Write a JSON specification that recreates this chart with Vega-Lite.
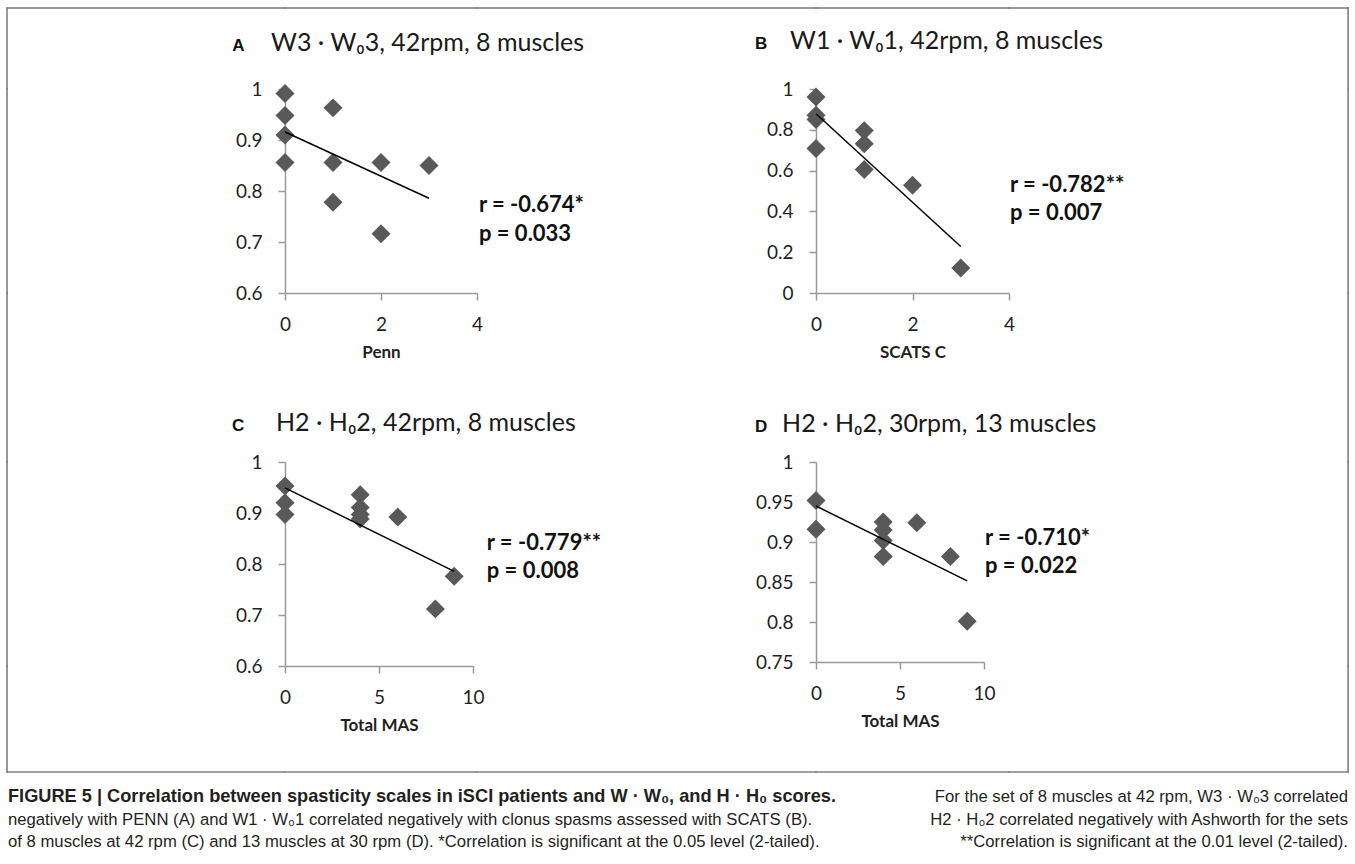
{
  "$schema": "https://vega.github.io/schema/vega-lite/v6.json",
  "padding": {"left": 6, "top": 7, "right": 6, "bottom": 5},
  "background": "white",
  "config": {
    "view": {"stroke": null},
    "axis": {
      "grid": false,
      "domainColor": "#9a9a9a",
      "domainWidth": 1.5,
      "tickColor": "#9a9a9a",
      "tickWidth": 1.5,
      "tickSize": 7,
      "labelFont": "Lato",
      "labelFontSize": 19,
      "labelColor": "#1f1f1f",
      "labelPadding": 15,
      "labelFlush": false,
      "labelOverlap": false,
      "labelBound": false,
      "titleFont": "Lato",
      "titleFontSize": 17,
      "titleFontWeight": "bold",
      "titleColor": "#1f1f1f",
      "titlePadding": 10
    },
    "axisY": {"labelPadding": 16}
  },
  "datasets": {
    "penn": [
      {"score": 0, "value": 0.991},
      {"score": 0, "value": 0.948},
      {"score": 0, "value": 0.910},
      {"score": 0, "value": 0.856},
      {"score": 1, "value": 0.963},
      {"score": 1, "value": 0.856},
      {"score": 1, "value": 0.778},
      {"score": 2, "value": 0.856},
      {"score": 2, "value": 0.716},
      {"score": 3, "value": 0.850}
    ],
    "scats": [
      {"score": 0, "value": 0.961},
      {"score": 0, "value": 0.871},
      {"score": 0, "value": 0.850},
      {"score": 0, "value": 0.708},
      {"score": 1, "value": 0.796},
      {"score": 1, "value": 0.732},
      {"score": 1, "value": 0.605},
      {"score": 2, "value": 0.528},
      {"score": 3, "value": 0.123}
    ],
    "mas8": [
      {"score": 0, "value": 0.953},
      {"score": 0, "value": 0.920},
      {"score": 0, "value": 0.897},
      {"score": 4, "value": 0.936},
      {"score": 4, "value": 0.911},
      {"score": 4, "value": 0.897},
      {"score": 4, "value": 0.888},
      {"score": 6, "value": 0.892},
      {"score": 8, "value": 0.712},
      {"score": 9, "value": 0.776}
    ],
    "mas13": [
      {"score": 0, "value": 0.952},
      {"score": 0, "value": 0.916},
      {"score": 4, "value": 0.925},
      {"score": 4, "value": 0.915},
      {"score": 4, "value": 0.902},
      {"score": 4, "value": 0.882},
      {"score": 6, "value": 0.924},
      {"score": 8, "value": 0.882},
      {"score": 9, "value": 0.801}
    ],
    "panels": [
      {"panel": "A", "letter": "A", "title": "W3 · W₀3, 42rpm, 8 muscles", "r": "r = -0.674*", "p": "p = 0.033"},
      {"panel": "B", "letter": "B", "title": "W1 · W₀1, 42rpm, 8 muscles", "r": "r = -0.782**", "p": "p = 0.007"},
      {"panel": "C", "letter": "C", "title": "H2 · H₀2, 42rpm, 8 muscles", "r": "r = -0.779**", "p": "p = 0.008"},
      {"panel": "D", "letter": "D", "title": "H2 · H₀2, 30rpm, 13 muscles", "r": "r = -0.710*", "p": "p = 0.022"}
    ],
    "captionHead": [
      {"line": 1, "text": "FIGURE 5 | Correlation between spasticity scales in iSCI patients and W · W₀, and H · H₀ scores."}
    ],
    "captionLeft": [
      {"line": 2, "text": "negatively with PENN (A) and W1 · W₀1 correlated negatively with clonus spasms assessed with SCATS (B)."},
      {"line": 3, "text": "of 8 muscles at 42 rpm (C) and 13 muscles at 30 rpm (D). *Correlation is significant at the 0.05 level (2-tailed)."}
    ],
    "captionRight": [
      {"line": 1, "text": "For the set of 8 muscles at 42 rpm, W3 · W₀3 correlated"},
      {"line": 2, "text": "H2 · H₀2 correlated negatively with Ashworth for the sets"},
      {"line": 3, "text": "**Correlation is significant at the 0.01 level (2-tailed)."}
    ]
  },
  "bounds": "flush",
  "spacing": 0,
  "align": {"row": "each", "column": "each"},
  "columns": 7,
  "concat": [
    {"width": 0.1, "height": 0.1, "data": {"values": []}, "mark": {"type": "point", "opacity": 0}, "encoding": {}, "view": {"stroke": "#777777", "strokeWidth": 1.5}},
    {"width": 277, "height": 0.1, "data": {"values": []}, "mark": {"type": "point", "opacity": 0}, "encoding": {}, "view": {"stroke": "#777777", "strokeWidth": 1.5}},
    {"width": 192, "height": 0.1, "data": {"values": []}, "mark": {"type": "point", "opacity": 0}, "encoding": {}, "view": {"stroke": "#777777", "strokeWidth": 1.5}},
    {"width": 339, "height": 0.1, "data": {"values": []}, "mark": {"type": "point", "opacity": 0}, "encoding": {}, "view": {"stroke": "#777777", "strokeWidth": 1.5}},
    {"width": 193, "height": 0.1, "data": {"values": []}, "mark": {"type": "point", "opacity": 0}, "encoding": {}, "view": {"stroke": "#777777", "strokeWidth": 1.5}},
    {"width": 339, "height": 0.1, "data": {"values": []}, "mark": {"type": "point", "opacity": 0}, "encoding": {}, "view": {"stroke": "#777777", "strokeWidth": 1.5}},
    {"width": 0.1, "height": 0.1, "data": {"values": []}, "mark": {"type": "point", "opacity": 0}, "encoding": {}, "view": {"stroke": "#777777", "strokeWidth": 1.5}},

    {"width": 0.1, "height": 80, "data": {"values": []}, "mark": {"type": "point", "opacity": 0}, "encoding": {}, "view": {"stroke": "#808080", "strokeWidth": 1.5}},
    {"width": 0.1, "height": 0.1, "data": {"values": []}, "mark": {"type": "point", "opacity": 0}, "encoding": {}},
    {"width": 0.1, "height": 0.1, "data": {"values": []}, "mark": {"type": "point", "opacity": 0}, "encoding": {}},
    {"width": 0.1, "height": 0.1, "data": {"values": []}, "mark": {"type": "point", "opacity": 0}, "encoding": {}},
    {"width": 0.1, "height": 0.1, "data": {"values": []}, "mark": {"type": "point", "opacity": 0}, "encoding": {}},
    {"width": 0.1, "height": 0.1, "data": {"values": []}, "mark": {"type": "point", "opacity": 0}, "encoding": {}},
    {"width": 0.1, "height": 80, "data": {"values": []}, "mark": {"type": "point", "opacity": 0}, "encoding": {}, "view": {"stroke": "#808080", "strokeWidth": 1.5}},

    {"width": 0.1, "height": 204, "data": {"values": []}, "mark": {"type": "point", "opacity": 0}, "encoding": {}, "view": {"stroke": "#808080", "strokeWidth": 1.5}},
    {"width": 0.1, "height": 0.1, "data": {"values": []}, "mark": {"type": "point", "opacity": 0}, "encoding": {}},
    {
      "width": 192, "height": 204,
      "layer": [
        {"data": {"name": "penn"}, "mark": {"type": "point", "shape": "diamond", "filled": true, "size": 360, "color": "#595959", "opacity": 1},
         "encoding": {
           "x": {"field": "score", "type": "quantitative", "title": "Penn", "scale": {"domain": [0, 4], "nice": false, "zero": false}, "axis": {"values": [0, 2, 4], "labelOverlap": false}},
           "y": {"field": "value", "type": "quantitative", "title": null, "scale": {"domain": [0.6, 1], "nice": false, "zero": false}, "axis": {"values": [0.6, 0.7, 0.8, 0.9, 1], "format": "~g", "labelOverlap": false}}}},
        {"data": {"name": "penn"}, "transform": [{"regression": "value", "on": "score"}], "mark": {"type": "line", "color": "#000000", "strokeWidth": 1.5},
         "encoding": {"x": {"field": "score", "type": "quantitative"}, "y": {"field": "value", "type": "quantitative"}}},
        {"data": {"name": "panels"}, "transform": [{"filter": "datum.panel == 'A'"}], "mark": {"type": "text", "align": "left", "baseline": "alphabetic", "font": "Liberation Sans", "fontSize": 17, "fontWeight": "bold", "color": "#111111"},
         "encoding": {"x": {"datum": -1.1}, "y": {"datum": 1.0745}, "text": {"field": "letter"}}},
        {"data": {"name": "panels"}, "transform": [{"filter": "datum.panel == 'A'"}], "mark": {"type": "text", "align": "left", "baseline": "alphabetic", "font": "Lato", "fontSize": 25, "color": "#1a1a1a"},
         "encoding": {"x": {"datum": -0.29}, "y": {"datum": 1.0745}, "text": {"field": "title"}}},
        {"data": {"name": "panels"}, "transform": [{"filter": "datum.panel == 'A'"}], "mark": {"type": "text", "align": "left", "baseline": "alphabetic", "font": "Lato", "fontSize": 22, "fontWeight": "bold", "color": "#111111"},
         "encoding": {"x": {"datum": 4.04}, "y": {"datum": 0.759}, "text": {"field": "r"}}},
        {"data": {"name": "panels"}, "transform": [{"filter": "datum.panel == 'A'"}], "mark": {"type": "text", "align": "left", "baseline": "alphabetic", "font": "Lato", "fontSize": 22, "fontWeight": "bold", "color": "#111111"},
         "encoding": {"x": {"datum": 4.04}, "y": {"datum": 0.702}, "text": {"field": "p"}}}
      ]
    },
    {"width": 0.1, "height": 0.1, "data": {"values": []}, "mark": {"type": "point", "opacity": 0}, "encoding": {}},
    {
      "width": 193, "height": 204,
      "layer": [
        {"data": {"name": "scats"}, "mark": {"type": "point", "shape": "diamond", "filled": true, "size": 360, "color": "#595959", "opacity": 1},
         "encoding": {
           "x": {"field": "score", "type": "quantitative", "title": "SCATS C", "scale": {"domain": [0, 4], "nice": false, "zero": false}, "axis": {"values": [0, 2, 4], "labelOverlap": false}},
           "y": {"field": "value", "type": "quantitative", "title": null, "scale": {"domain": [0, 1], "nice": false, "zero": false}, "axis": {"values": [0, 0.2, 0.4, 0.6, 0.8, 1], "format": "~g", "labelOverlap": false}}}},
        {"data": {"name": "scats"}, "transform": [{"regression": "value", "on": "score"}], "mark": {"type": "line", "color": "#000000", "strokeWidth": 1.5},
         "encoding": {"x": {"field": "score", "type": "quantitative"}, "y": {"field": "value", "type": "quantitative"}}},
        {"data": {"name": "panels"}, "transform": [{"filter": "datum.panel == 'B'"}], "mark": {"type": "text", "align": "left", "baseline": "alphabetic", "font": "Liberation Sans", "fontSize": 17, "fontWeight": "bold", "color": "#111111"},
         "encoding": {"x": {"datum": -1.264}, "y": {"datum": 1.194}, "text": {"field": "letter"}}},
        {"data": {"name": "panels"}, "transform": [{"filter": "datum.panel == 'B'"}], "mark": {"type": "text", "align": "left", "baseline": "alphabetic", "font": "Lato", "fontSize": 25, "color": "#1a1a1a"},
         "encoding": {"x": {"datum": -0.539}, "y": {"datum": 1.194}, "text": {"field": "title"}}},
        {"data": {"name": "panels"}, "transform": [{"filter": "datum.panel == 'B'"}], "mark": {"type": "text", "align": "left", "baseline": "alphabetic", "font": "Lato", "fontSize": 22, "fontWeight": "bold", "color": "#111111"},
         "encoding": {"x": {"datum": 4.02}, "y": {"datum": 0.497}, "text": {"field": "r"}}},
        {"data": {"name": "panels"}, "transform": [{"filter": "datum.panel == 'B'"}], "mark": {"type": "text", "align": "left", "baseline": "alphabetic", "font": "Lato", "fontSize": 22, "fontWeight": "bold", "color": "#111111"},
         "encoding": {"x": {"datum": 4.02}, "y": {"datum": 0.358}, "text": {"field": "p"}}}
      ]
    },
    {"width": 0.1, "height": 0.1, "data": {"values": []}, "mark": {"type": "point", "opacity": 0}, "encoding": {}},
    {"width": 0.1, "height": 204, "data": {"values": []}, "mark": {"type": "point", "opacity": 0}, "encoding": {}, "view": {"stroke": "#808080", "strokeWidth": 1.5}},

    {"width": 0.1, "height": 169, "data": {"values": []}, "mark": {"type": "point", "opacity": 0}, "encoding": {}, "view": {"stroke": "#808080", "strokeWidth": 1.5}},
    {"width": 0.1, "height": 0.1, "data": {"values": []}, "mark": {"type": "point", "opacity": 0}, "encoding": {}},
    {"width": 0.1, "height": 0.1, "data": {"values": []}, "mark": {"type": "point", "opacity": 0}, "encoding": {}},
    {"width": 0.1, "height": 0.1, "data": {"values": []}, "mark": {"type": "point", "opacity": 0}, "encoding": {}},
    {"width": 0.1, "height": 0.1, "data": {"values": []}, "mark": {"type": "point", "opacity": 0}, "encoding": {}},
    {"width": 0.1, "height": 0.1, "data": {"values": []}, "mark": {"type": "point", "opacity": 0}, "encoding": {}},
    {"width": 0.1, "height": 169, "data": {"values": []}, "mark": {"type": "point", "opacity": 0}, "encoding": {}, "view": {"stroke": "#808080", "strokeWidth": 1.5}},

    {"width": 0.1, "height": 204, "data": {"values": []}, "mark": {"type": "point", "opacity": 0}, "encoding": {}, "view": {"stroke": "#808080", "strokeWidth": 1.5}},
    {"width": 0.1, "height": 0.1, "data": {"values": []}, "mark": {"type": "point", "opacity": 0}, "encoding": {}},
    {
      "width": 188, "height": 204,
      "layer": [
        {"data": {"name": "mas8"}, "mark": {"type": "point", "shape": "diamond", "filled": true, "size": 360, "color": "#595959", "opacity": 1},
         "encoding": {
           "x": {"field": "score", "type": "quantitative", "title": "Total MAS", "scale": {"domain": [0, 10], "nice": false, "zero": false}, "axis": {"values": [0, 5, 10], "labelOverlap": false}},
           "y": {"field": "value", "type": "quantitative", "title": null, "scale": {"domain": [0.6, 1], "nice": false, "zero": false}, "axis": {"values": [0.6, 0.7, 0.8, 0.9, 1], "format": "~g", "labelOverlap": false}}}},
        {"data": {"name": "mas8"}, "transform": [{"regression": "value", "on": "score"}], "mark": {"type": "line", "color": "#000000", "strokeWidth": 1.5},
         "encoding": {"x": {"field": "score", "type": "quantitative"}, "y": {"field": "value", "type": "quantitative"}}},
        {"data": {"name": "panels"}, "transform": [{"filter": "datum.panel == 'C'"}], "mark": {"type": "text", "align": "left", "baseline": "alphabetic", "font": "Liberation Sans", "fontSize": 17, "fontWeight": "bold", "color": "#111111"},
         "encoding": {"x": {"datum": -2.82}, "y": {"datum": 1.061}, "text": {"field": "letter"}}},
        {"data": {"name": "panels"}, "transform": [{"filter": "datum.panel == 'C'"}], "mark": {"type": "text", "align": "left", "baseline": "alphabetic", "font": "Lato", "fontSize": 25, "color": "#1a1a1a"},
         "encoding": {"x": {"datum": -0.48}, "y": {"datum": 1.061}, "text": {"field": "title"}}},
        {"data": {"name": "panels"}, "transform": [{"filter": "datum.panel == 'C'"}], "mark": {"type": "text", "align": "left", "baseline": "alphabetic", "font": "Lato", "fontSize": 22, "fontWeight": "bold", "color": "#111111"},
         "encoding": {"x": {"datum": 10.73}, "y": {"datum": 0.8275}, "text": {"field": "r"}}},
        {"data": {"name": "panels"}, "transform": [{"filter": "datum.panel == 'C'"}], "mark": {"type": "text", "align": "left", "baseline": "alphabetic", "font": "Lato", "fontSize": 22, "fontWeight": "bold", "color": "#111111"},
         "encoding": {"x": {"datum": 10.73}, "y": {"datum": 0.7725}, "text": {"field": "p"}}}
      ]
    },
    {"width": 0.1, "height": 0.1, "data": {"values": []}, "mark": {"type": "point", "opacity": 0}, "encoding": {}},
    {
      "width": 168, "height": 200,
      "layer": [
        {"data": {"name": "mas13"}, "mark": {"type": "point", "shape": "diamond", "filled": true, "size": 360, "color": "#595959", "opacity": 1},
         "encoding": {
           "x": {"field": "score", "type": "quantitative", "title": "Total MAS", "scale": {"domain": [0, 10], "nice": false, "zero": false}, "axis": {"tickCount": 2, "labelOverlap": false}},
           "y": {"field": "value", "type": "quantitative", "title": null, "scale": {"domain": [0.75, 1], "nice": false, "zero": false}, "axis": {"tickCount": 5, "format": "~g", "labelOverlap": false}}}},
        {"data": {"name": "mas13"}, "transform": [{"regression": "value", "on": "score"}], "mark": {"type": "line", "color": "#000000", "strokeWidth": 1.5},
         "encoding": {"x": {"field": "score", "type": "quantitative"}, "y": {"field": "value", "type": "quantitative"}}},
        {"data": {"name": "panels"}, "transform": [{"filter": "datum.panel == 'D'"}], "mark": {"type": "text", "align": "left", "baseline": "alphabetic", "font": "Liberation Sans", "fontSize": 17, "fontWeight": "bold", "color": "#111111"},
         "encoding": {"x": {"datum": -3.63}, "y": {"datum": 1.0375}, "text": {"field": "letter"}}},
        {"data": {"name": "panels"}, "transform": [{"filter": "datum.panel == 'D'"}], "mark": {"type": "text", "align": "left", "baseline": "alphabetic", "font": "Lato", "fontSize": 25, "color": "#1a1a1a"},
         "encoding": {"x": {"datum": -2.02}, "y": {"datum": 1.0375}, "text": {"field": "title"}}},
        {"data": {"name": "panels"}, "transform": [{"filter": "datum.panel == 'D'"}], "mark": {"type": "text", "align": "left", "baseline": "alphabetic", "font": "Lato", "fontSize": 22, "fontWeight": "bold", "color": "#111111"},
         "encoding": {"x": {"datum": 10.06}, "y": {"datum": 0.896}, "text": {"field": "r"}}},
        {"data": {"name": "panels"}, "transform": [{"filter": "datum.panel == 'D'"}], "mark": {"type": "text", "align": "left", "baseline": "alphabetic", "font": "Lato", "fontSize": 22, "fontWeight": "bold", "color": "#111111"},
         "encoding": {"x": {"datum": 10.06}, "y": {"datum": 0.861}, "text": {"field": "p"}}}
      ]
    },
    {"width": 0.1, "height": 0.1, "data": {"values": []}, "mark": {"type": "point", "opacity": 0}, "encoding": {}},
    {"width": 0.1, "height": 204, "data": {"values": []}, "mark": {"type": "point", "opacity": 0}, "encoding": {}, "view": {"stroke": "#808080", "strokeWidth": 1.5}},

    {"width": 0.1, "height": 106, "data": {"values": []}, "mark": {"type": "point", "opacity": 0}, "encoding": {}, "view": {"stroke": "#808080", "strokeWidth": 1.5}},
    {"width": 0.1, "height": 0.1, "data": {"values": []}, "mark": {"type": "point", "opacity": 0}, "encoding": {}},
    {"width": 0.1, "height": 0.1, "data": {"values": []}, "mark": {"type": "point", "opacity": 0}, "encoding": {}},
    {"width": 0.1, "height": 0.1, "data": {"values": []}, "mark": {"type": "point", "opacity": 0}, "encoding": {}},
    {"width": 0.1, "height": 0.1, "data": {"values": []}, "mark": {"type": "point", "opacity": 0}, "encoding": {}},
    {"width": 0.1, "height": 0.1, "data": {"values": []}, "mark": {"type": "point", "opacity": 0}, "encoding": {}},
    {"width": 0.1, "height": 106, "data": {"values": []}, "mark": {"type": "point", "opacity": 0}, "encoding": {}, "view": {"stroke": "#808080", "strokeWidth": 1.5}},

    {"width": 0.1, "height": 0.1, "data": {"values": []}, "mark": {"type": "point", "opacity": 0}, "encoding": {}, "view": {"stroke": "#808080", "strokeWidth": 1.5}},
    {"width": 277, "height": 0.1, "data": {"values": []}, "mark": {"type": "point", "opacity": 0}, "encoding": {}, "view": {"stroke": "#808080", "strokeWidth": 1.5}},
    {"width": 192, "height": 0.1, "data": {"values": []}, "mark": {"type": "point", "opacity": 0}, "encoding": {}, "view": {"stroke": "#808080", "strokeWidth": 1.5}},
    {"width": 339, "height": 0.1, "data": {"values": []}, "mark": {"type": "point", "opacity": 0}, "encoding": {}, "view": {"stroke": "#808080", "strokeWidth": 1.5}},
    {"width": 193, "height": 0.1, "data": {"values": []}, "mark": {"type": "point", "opacity": 0}, "encoding": {}, "view": {"stroke": "#808080", "strokeWidth": 1.5}},
    {"width": 339, "height": 0.1, "data": {"values": []}, "mark": {"type": "point", "opacity": 0}, "encoding": {}, "view": {"stroke": "#808080", "strokeWidth": 1.5}},
    {"width": 0.1, "height": 0.1, "data": {"values": []}, "mark": {"type": "point", "opacity": 0}, "encoding": {}, "view": {"stroke": "#808080", "strokeWidth": 1.5}},

    {"width": 0.1, "height": 13, "data": {"values": []}, "mark": {"type": "point", "opacity": 0}, "encoding": {}},
    {"width": 0.1, "height": 0.1, "data": {"values": []}, "mark": {"type": "point", "opacity": 0}, "encoding": {}},
    {"width": 0.1, "height": 0.1, "data": {"values": []}, "mark": {"type": "point", "opacity": 0}, "encoding": {}},
    {"width": 0.1, "height": 0.1, "data": {"values": []}, "mark": {"type": "point", "opacity": 0}, "encoding": {}},
    {"width": 0.1, "height": 0.1, "data": {"values": []}, "mark": {"type": "point", "opacity": 0}, "encoding": {}},
    {"width": 0.1, "height": 0.1, "data": {"values": []}, "mark": {"type": "point", "opacity": 0}, "encoding": {}},
    {"width": 0.1, "height": 0.1, "data": {"values": []}, "mark": {"type": "point", "opacity": 0}, "encoding": {}},

    {
      "width": 0.1, "height": 67.5,
      "layer": [
        {"data": {"name": "captionHead"}, "mark": {"type": "text", "align": "left", "baseline": "middle", "font": "Liberation Sans", "fontSize": 18.2, "fontWeight": "bold", "color": "#231f20"},
         "encoding": {"x": {"value": 1}, "y": {"field": "line", "type": "ordinal", "axis": null, "scale": {"domain": [1, 2, 3]}}, "text": {"field": "text"}}},
        {"data": {"name": "captionLeft"}, "mark": {"type": "text", "align": "left", "baseline": "middle", "font": "Liberation Sans", "fontSize": 16.7, "color": "#231f20"},
         "encoding": {"x": {"value": 1}, "y": {"field": "line", "type": "ordinal", "axis": null}, "text": {"field": "text"}}}
      ]
    },
    {"width": 0.1, "height": 0.1, "data": {"values": []}, "mark": {"type": "point", "opacity": 0}, "encoding": {}},
    {"width": 0.1, "height": 0.1, "data": {"values": []}, "mark": {"type": "point", "opacity": 0}, "encoding": {}},
    {"width": 0.1, "height": 0.1, "data": {"values": []}, "mark": {"type": "point", "opacity": 0}, "encoding": {}},
    {"width": 0.1, "height": 0.1, "data": {"values": []}, "mark": {"type": "point", "opacity": 0}, "encoding": {}},
    {"width": 0.1, "height": 0.1, "data": {"values": []}, "mark": {"type": "point", "opacity": 0}, "encoding": {}},
    {
      "width": 0.1, "height": 67.5,
      "data": {"name": "captionRight"},
      "mark": {"type": "text", "align": "right", "baseline": "middle", "font": "Liberation Sans", "fontSize": 16.7, "color": "#231f20"},
      "encoding": {"x": {"value": 0}, "y": {"field": "line", "type": "ordinal", "axis": null, "scale": {"domain": [1, 2, 3]}}, "text": {"field": "text"}}
    }
  ]
}
